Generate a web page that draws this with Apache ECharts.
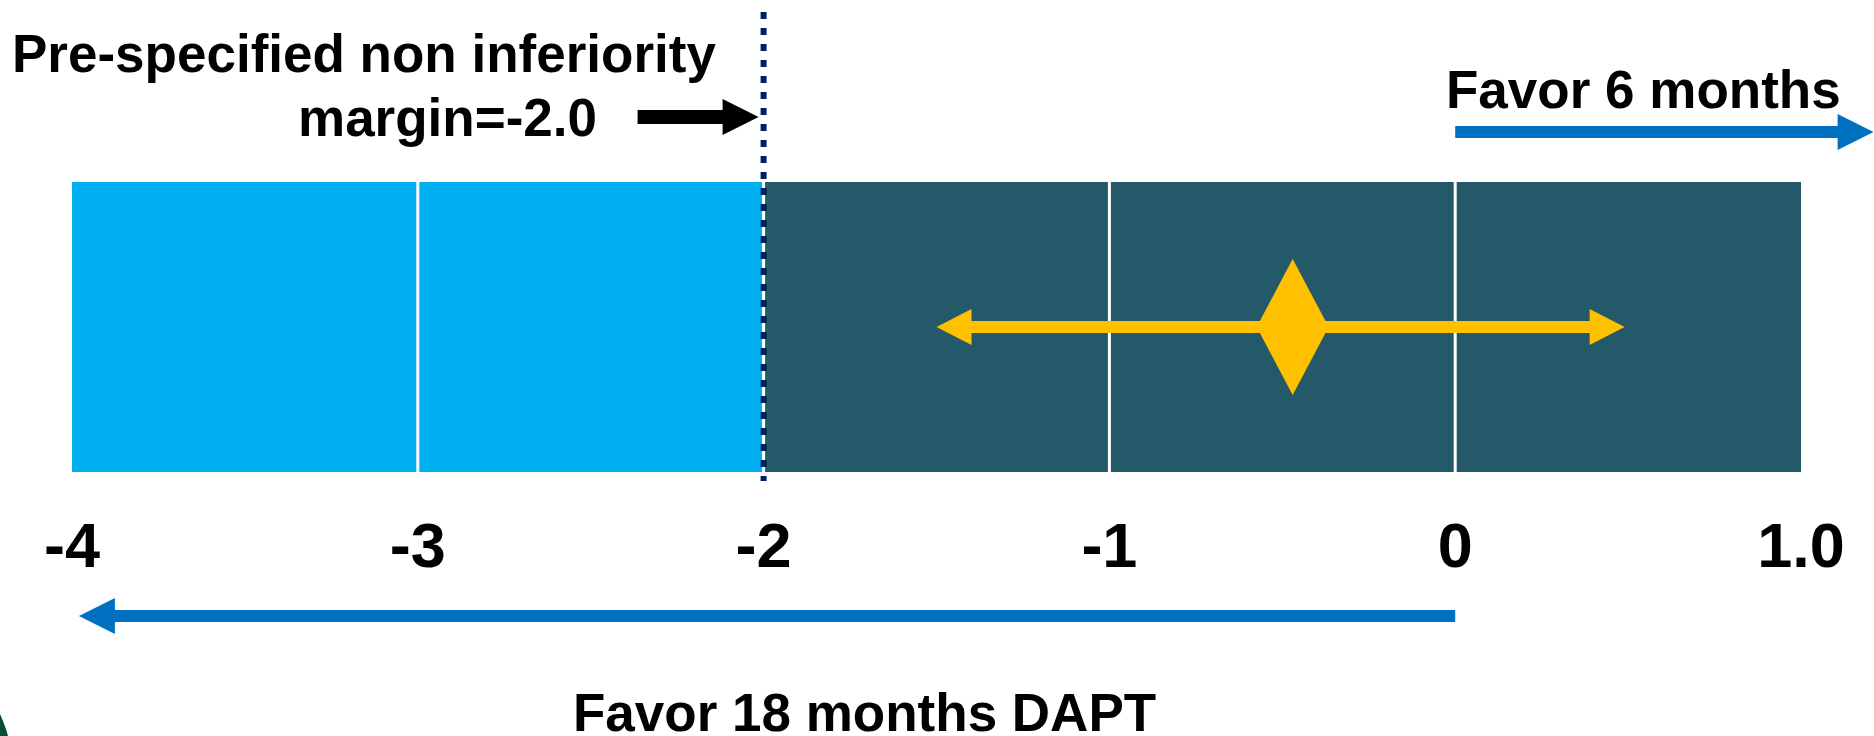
<!DOCTYPE html>
<html>
<head>
<meta charset="utf-8">
<script src="https://cdn.jsdelivr.net/npm/echarts@6/dist/echarts.min.js"></script>
<style>
  html, body { margin: 0; padding: 0; background: #ffffff; }
  #chart { width: 1874px; height: 736px; }
</style>
</head>
<body>
<div id="chart"></div>
<script>
// Scale ticks and their printed labels
const tickValues = [-4, -3, -2, -1, 0, 1];
const tickLabels = ['-4', '-3', '-2', '-1', '0', '1.0'];

// Shaded unit cells along the difference scale
const cellStarts = [-4, -3, -2, -1, 0];
const cellEnds   = [-3, -2, -1, 0, 1];
const cellZones  = ['inferior', 'inferior', 'acceptable', 'acceptable', 'acceptable'];

// Pre-specified non-inferiority margin
const marginValue = -2.0;

// Point estimate of the difference and the ends of its interval
const pointEstimate = -0.47;
const intervalLow = -1.5;
const intervalHigh = 0.49;

// Direction arrows (start and tip on the difference scale)
const favorShortRange = [0, 1.21];
const favorLongRange = [0, -3.98];

// Texts
const marginTextLines = ['Pre-specified non inferiority', 'margin=-2.0'];
const favorShortText = 'Favor 6 months';
const favorLongText = 'Favor 18 months DAPT';

const FONT = '"Liberation Sans", Arial, Helvetica, sans-serif';
const zoneColors = { inferior: '#00B0F0', acceptable: '#235969' };
const YELLOW = '#FFC000';
const BLUE = '#0070C0';
const NAVY = '#002060';

// Horizontal block arrow as a polygon, tip at xTip
function arrowPoints(xStart, xTip, y, shaftHalf, headLen, headHalf) {
  const dir = xTip >= xStart ? 1 : -1;
  const xb = xTip - dir * headLen;
  return [
    [xStart, y - shaftHalf], [xb, y - shaftHalf], [xb, y - headHalf],
    [xTip, y], [xb, y + headHalf], [xb, y + shaftHalf], [xStart, y + shaftHalf]
  ];
}

const chart = echarts.init(document.getElementById('chart'), null, { renderer: 'canvas' });

const option = {
  animation: false,
  backgroundColor: '#ffffff',
  grid: { left: 72, right: 73, top: 182, bottom: 264, containLabel: false },
  xAxis: {
    type: 'value',
    min: -4,
    max: 1,
    interval: 1,
    axisLine: { show: false },
    axisTick: { show: false },
    splitLine: { show: false },
    axisLabel: {
      margin: 46,
      color: '#000000',
      fontFamily: FONT,
      fontWeight: 'bold',
      fontSize: 63,
      formatter: function (v) {
        const i = tickValues.indexOf(Math.round(v));
        return i >= 0 ? tickLabels[i] : '';
      }
    }
  },
  yAxis: { type: 'value', min: 0, max: 1, show: false },
  series: [
    {
      // shaded cells
      type: 'custom',
      clip: false,
      z: 1,
      data: cellStarts.map((s, i) => [s, cellEnds[i]]),
      renderItem: function (params, api) {
        const p0 = api.coord([api.value(0), 1]);
        const p1 = api.coord([api.value(1), 0]);
        return {
          type: 'rect',
          shape: { x: p0[0], y: p0[1], width: p1[0] - p0[0], height: p1[1] - p0[1] },
          style: { fill: zoneColors[cellZones[params.dataIndex]] }
        };
      }
    },
    {
      // white dividers at interior ticks
      type: 'custom',
      clip: false,
      z: 2,
      data: tickValues.slice(1, -1).map(v => [v]),
      renderItem: function (params, api) {
        const top = api.coord([api.value(0), 1]);
        const bot = api.coord([api.value(0), 0]);
        return {
          type: 'rect',
          shape: { x: top[0] - 1.5, y: top[1], width: 3, height: bot[1] - top[1] },
          style: { fill: '#ffffff' }
        };
      }
    },
    {
      // dotted margin line and the pointer to it
      type: 'custom',
      clip: false,
      z: 3,
      data: [[marginValue]],
      renderItem: function (params, api) {
        const top = api.coord([api.value(0), 1]);
        const bot = api.coord([api.value(0), 0]);
        const x = top[0];
        return {
          type: 'group',
          children: [
            {
              type: 'line',
              shape: { x1: x, y1: top[1] - 170, x2: x, y2: bot[1] + 9 },
              style: { stroke: NAVY, lineWidth: 6, lineDash: [7, 9] }
            },
            {
              type: 'polygon',
              shape: { points: arrowPoints(x - 126, x - 5, top[1] - 65, 7, 36, 18) },
              style: { fill: '#000000' }
            }
          ]
        };
      }
    },
    {
      // interval arrows and diamond for the point estimate
      type: 'custom',
      clip: false,
      z: 4,
      data: [[pointEstimate, intervalLow, intervalHigh]],
      renderItem: function (params, api) {
        const c = api.coord([api.value(0), 0.5]);
        const lo = api.coord([api.value(1), 0.5]);
        const hi = api.coord([api.value(2), 0.5]);
        const y = c[1];
        return {
          type: 'group',
          children: [
            {
              type: 'polygon',
              shape: { points: arrowPoints(c[0], lo[0], y, 6, 35, 18) },
              style: { fill: YELLOW }
            },
            {
              type: 'polygon',
              shape: { points: arrowPoints(c[0], hi[0], y, 6, 35, 18) },
              style: { fill: YELLOW }
            },
            {
              type: 'polygon',
              shape: { points: [[c[0], y - 68], [c[0] + 36, y], [c[0], y + 68], [c[0] - 36, y]] },
              style: { fill: YELLOW }
            }
          ]
        };
      }
    },
    {
      // direction arrows above and below the scale
      type: 'custom',
      clip: false,
      z: 5,
      data: [favorShortRange, favorLongRange],
      renderItem: function (params, api) {
        const top = api.coord([api.value(0), 1]);
        const bot = api.coord([api.value(0), 0]);
        const tip = api.coord([api.value(1), 0]);
        const y = params.dataIndex === 0 ? top[1] - 50 : bot[1] + 144;
        return {
          type: 'polygon',
          shape: { points: arrowPoints(top[0], tip[0], y, 6, 36, 18) },
          style: { fill: BLUE }
        };
      }
    }
  ],
  graphic: [
    {
      type: 'text', left: 12, top: 62 - 31, z: 10,
      style: { text: marginTextLines[0], fill: '#000', font: 'bold 53px ' + FONT }
    },
    {
      type: 'text', left: 298, top: 126 - 31, z: 10,
      style: { text: marginTextLines[1], fill: '#000', font: 'bold 53px ' + FONT }
    },
    {
      type: 'text', left: 1446, top: 98 - 31, z: 10,
      style: { text: favorShortText, fill: '#000', font: 'bold 53px ' + FONT }
    },
    {
      type: 'text', left: 573, top: 721 - 31, z: 10,
      style: { text: favorLongText, fill: '#000', font: 'bold 53px ' + FONT }
    },
    {
      // corner of a dark shape peeking in at bottom left
      type: 'polygon', z: 0,
      shape: { points: [[0, 714], [3, 721], [6, 729], [8, 736], [0, 736]] },
      style: { fill: '#0B4B3C' }
    }
  ]
};

chart.setOption(option);
</script>
</body>
</html>
